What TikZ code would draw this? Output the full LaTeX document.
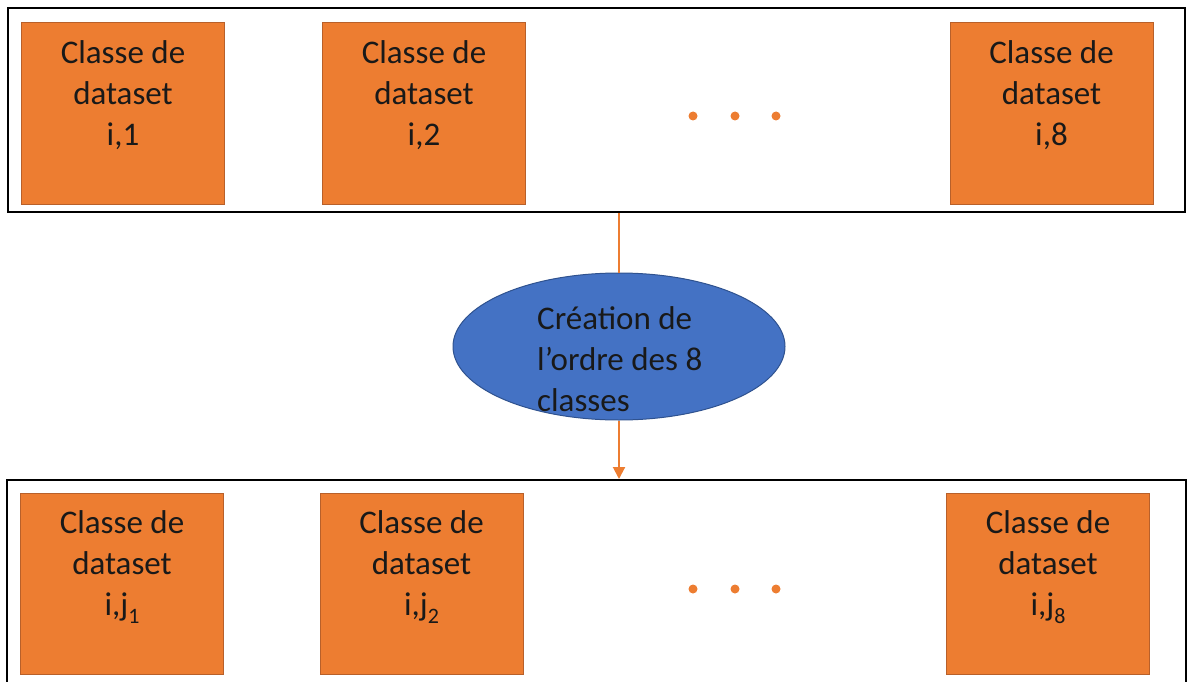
\documentclass[tikz,border=0pt]{standalone}
\usepackage{fontspec}
\setmainfont{Carlito}
\usetikzlibrary{arrows.meta,shapes.geometric}
\definecolor{boxorange}{HTML}{ED7D31}
\definecolor{boxedge}{HTML}{B8602A}
\definecolor{ellblue}{HTML}{4472C4}
\definecolor{elledge}{HTML}{2F528F}
% lowered index digit in the class labels
\newcommand{\idx}[1]{\raisebox{-0.22em}{\fontsize{22}{22}\selectfont #1}}
\begin{document}
\begin{tikzpicture}[x=1pt,y=-1pt,
  frame/.style={draw=black,line width=2pt,fill=none,inner sep=0pt},
  classbox/.style={draw=boxedge,line width=1pt,fill=boxorange,inner sep=0pt,
    minimum width=203pt,minimum height=181pt},
  boxtxt/.style={align=center,inner sep=0pt,font=\fontsize{33}{41}\selectfont,text=black!90},
  dot/.style={circle,fill=boxorange,inner sep=0pt,minimum size=9pt},
  step ell/.style={ellipse,draw=elledge,line width=1pt,fill=ellblue,inner sep=0pt,
    minimum width=332pt,minimum height=147pt},
  conn/.style={draw=boxorange,line width=2pt}]
\useasboundingbox (0,0) rectangle (1188,682);
\path[clip] (0,0) rectangle (1188,682);

% upper row
\node[frame,minimum width=1177pt,minimum height=204pt] (top) at (596.5,110) {};
\node[classbox] (a1) at (123,113.5) {};
\node[classbox] (a2) at (424,113.5) {};
\node[classbox] (a3) at (1051.5,113.5) {};
\node[boxtxt,yshift=-73pt] (ta1) at (a1.north) {Classe de\\dataset\\i,1};
\node[boxtxt,yshift=-73pt] (ta2) at (a2.north) {Classe de\\dataset\\i,2};
\node[boxtxt,yshift=-73pt] (ta3) at (a3.north) {Classe de\\dataset\\i,8};
\node[dot] (da1) at (693,116) {};
\node[dot] (da2) at (735,116) {};
\node[dot] (da3) at (776,116) {};

% ordering step
\node[step ell] (ell) at (619,346.5) {};
\node[anchor=west,align=left,inner sep=0pt,font=\fontsize{33}{41}\selectfont,text=black!90]
  (elltxt) at (537,359) {Création de\\l’ordre des 8\\classes};

% lower row (frame runs past the lower edge)
\node[frame,minimum width=1179pt,minimum height=240pt] (bot) at (596.5,600) {};
\node[classbox] (b1) at (122,584) {};
\node[classbox] (b2) at (421.5,584) {};
\node[classbox] (b3) at (1048,584) {};
\node[boxtxt,yshift=-74pt] (tb1) at (b1.north) {Classe de\\dataset\\i,j\idx{1}};
\node[boxtxt,yshift=-74pt] (tb2) at (b2.north) {Classe de\\dataset\\i,j\idx{2}};
\node[boxtxt,yshift=-74pt] (tb3) at (b3.north) {Classe de\\dataset\\i,j\idx{8}};
\node[dot] (db1) at (693,589) {};
\node[dot] (db2) at (735,589) {};
\node[dot] (db3) at (776,589) {};

% connectors
\draw[conn] (top.south -| ell.north) -- (ell.north);
\draw[conn,-{Triangle[length=12pt,width=12pt]}] (ell.south) -- (bot.north -| ell.south);
\end{tikzpicture}
\end{document}
